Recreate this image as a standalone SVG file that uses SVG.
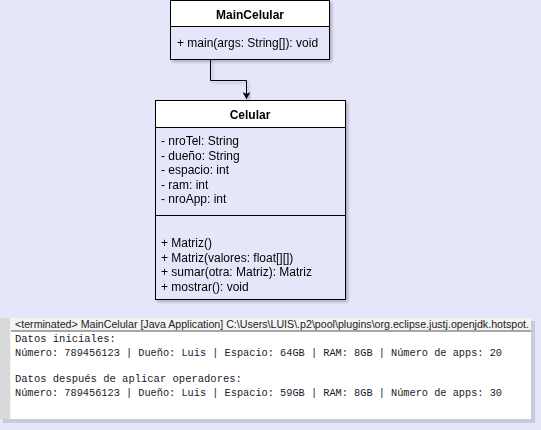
<svg xmlns="http://www.w3.org/2000/svg" width="541" height="430" viewBox="0 0 541 430">
  <style>
    .box { fill: #e6e6fa; stroke: #000; stroke-width: 1; }
    .head { fill: #ffffff; stroke: #000; stroke-width: 1; }
    .title { font-family: "Liberation Sans", Arial, sans-serif; font-size: 12px; font-weight: bold; fill: #000; text-anchor: middle; }
    .mem { font-family: "Liberation Sans", Arial, sans-serif; font-size: 12px; fill: #000; }
    .con { font-family: "Liberation Mono", "DejaVu Sans Mono", monospace; font-size: 10.5px; fill: #1a1a2a; }
    .hdr { font-family: "Liberation Sans", Arial, sans-serif; font-size: 11px; fill: #222; }
    .edge { fill: none; stroke: #000; stroke-width: 1; }
  </style>
  <defs>
    <filter id="sh" x="-10%" y="-10%" width="120%" height="120%">
      <feDropShadow dx="2" dy="2" stdDeviation="1.5" flood-color="#000" flood-opacity="0.25"/>
    </filter>
    <marker id="arr" markerWidth="8" markerHeight="8" refX="7" refY="4" orient="auto" markerUnits="userSpaceOnUse">
      <path d="M0,0 L7,4 L0,8 L2,4 z" fill="#000"/>
    </marker>
    <clipPath id="hdrclip">
      <rect x="0" y="318" width="541" height="14"/>
    </clipPath>
  </defs>
  <rect x="0" y="0" width="541" height="430" fill="#e6e6fa"/>

  <g id="MainCelular" filter="url(#sh)">
    <rect class="box" x="170.5" y="0.5" width="159" height="59"/>
    <rect class="head" x="170.5" y="0.5" width="159" height="26"/>
    <text class="title" x="250" y="19">MainCelular</text>
    <text class="mem" x="177" y="47">+ main(args: String[]): void</text>
  </g>

  <g id="Celular" filter="url(#sh)">
    <rect class="box" x="155.5" y="100.5" width="190" height="199"/>
    <rect class="head" x="155.5" y="100.5" width="190" height="27"/>
    <line x1="155.5" y1="215.5" x2="345.5" y2="215.5" stroke="#000"/>
    <text class="title" x="250" y="119">Celular</text>
    <text class="mem" x="161" y="145">- nroTel: String</text>
    <text class="mem" x="161" y="159.5">- dueño: String</text>
    <text class="mem" x="161" y="174">- espacio: int</text>
    <text class="mem" x="161" y="188.5">- ram: int</text>
    <text class="mem" x="161" y="203">- nroApp: int</text>
    <text class="mem" x="161" y="247">+ Matriz()</text>
    <text class="mem" x="161" y="261.5">+ Matriz(valores: float[][])</text>
    <text class="mem" x="161" y="276">+ sumar(otra: Matriz): Matriz</text>
    <text class="mem" x="161" y="290.5">+ mostrar(): void</text>
  </g>

  <g id="connectors" filter="url(#sh)">
    <path class="edge" d="M210.5,60 L210.5,80.5 L246.5,80.5 L246.5,99" marker-end="url(#arr)"/>
  </g>

  <g id="console">
    <rect x="3" y="321" width="532" height="102" fill="#000" opacity="0.12"/>
    <rect x="0" y="318" width="531" height="101" fill="#f4f4f4"/>
    <rect x="0" y="318" width="10" height="101" fill="#d9d9d9"/>
    <rect x="11" y="331" width="520" height="88" fill="#ffffff"/>
    <line x1="11" y1="331" x2="531" y2="331" stroke="#555" stroke-width="1"/>
    <text class="hdr" x="15" y="328" textLength="514" lengthAdjust="spacingAndGlyphs" clip-path="url(#hdrclip)">&lt;terminated&gt; MainCelular [Java Application] C:\Users\LUIS\.p2\pool\plugins\org.eclipse.justj.openjdk.hotspot.</text>
    <text class="con" x="15" y="342">Datos iniciales:</text>
    <text class="con" x="15" y="356" textLength="487" lengthAdjust="spacingAndGlyphs">Número: 789456123 | Dueño: Luis | Espacio: 64GB | RAM: 8GB | Número de apps: 20</text>
    <text class="con" x="15" y="382">Datos después de aplicar operadores:</text>
    <text class="con" x="15" y="396" textLength="487" lengthAdjust="spacingAndGlyphs">Número: 789456123 | Dueño: Luis | Espacio: 59GB | RAM: 8GB | Número de apps: 30</text>
  </g>
</svg>
